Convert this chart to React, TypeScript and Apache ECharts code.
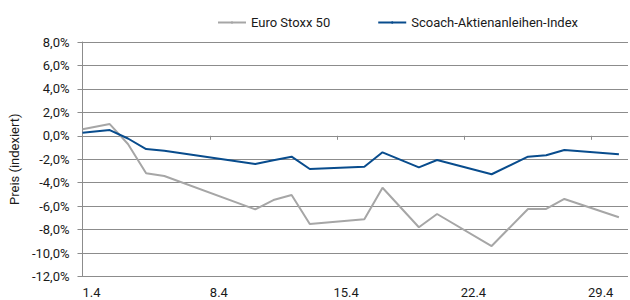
import React, { useEffect, useRef } from "react";
import * as echarts from "echarts";

// Days of April (0.5 = starting value at the left edge of the axis)
const days = [0.5, 2, 3, 4, 5, 10, 11, 12, 13, 16, 17, 19, 20, 23, 25, 26, 27, 30];
const euroStoxx = [0.55, 1.0, -0.7, -3.2, -3.43, -6.27, -5.48, -5.05, -7.52, -7.12, -4.43, -7.8, -6.67, -9.4, -6.24, -6.24, -5.39, -6.95];
const scoach = [0.26, 0.49, -0.23, -1.13, -1.27, -2.4, -2.09, -1.78, -2.83, -2.64, -1.41, -2.69, -2.06, -3.28, -1.78, -1.66, -1.21, -1.58];
const xLabelDays = [1, 8, 15, 22, 29];
const xTickDays = [7.5, 14.5, 21.5, 28.5];
const seriesNames = ["Euro Stoxx 50", "Scoach-Aktienanleihen-Index"];
const yAxisName = "Preis (indexiert)";

const FONT = "Roboto, 'Liberation Sans', Arial, sans-serif";
const GRID = "#8c8c8c";
const TXT = "#1a1a1a";

export default function App() {
  const ref = useRef<HTMLDivElement>(null);
  useEffect(() => {
    if (!ref.current) return;
    const chart = echarts.init(ref.current, undefined, { renderer: "svg" });
    const pairs = (vals: number[]) => days.map((d, i) => [d, vals[i]]);
    chart.setOption({
      animation: false,
      textStyle: { fontFamily: FONT },
      legend: {
        left: 212,
        top: 11,
        itemWidth: 28,
        itemHeight: 3,
        itemGap: 47,
        textStyle: { fontFamily: FONT, fontSize: 13, color: TXT },
        data: seriesNames,
      },
      grid: { left: 78, right: 2, top: 42, bottom: 23.5, containLabel: false },
      xAxis: [
        {
          type: "value",
          min: 0.5,
          max: 30.5,
          position: "bottom",
          axisLine: { onZero: true, lineStyle: { color: GRID, width: 1 } },
          axisTick: { show: true, customValues: xTickDays, length: 4, lineStyle: { color: GRID } },
          axisLabel: { show: false },
          splitLine: { show: false },
        },
        {
          type: "value",
          min: 0.5,
          max: 30.5,
          position: "bottom",
          axisLine: { show: false, onZero: false },
          axisTick: { show: false },
          splitLine: { show: false },
          axisLabel: {
            customValues: xLabelDays,
            formatter: (v: number) => `${v}.4`,
            fontFamily: FONT,
            fontSize: 13,
            color: TXT,
            margin: 9,
          },
        },
      ],
      yAxis: {
        type: "value",
        min: -12,
        max: 8,
        interval: 2,
        name: yAxisName,
        nameLocation: "middle",
        nameGap: 54,
        nameTextStyle: { fontFamily: FONT, fontSize: 13, color: TXT },
        axisLine: { show: true, lineStyle: { color: GRID, width: 1 } },
        axisTick: { show: true, length: 5, lineStyle: { color: GRID } },
        splitLine: { show: true, lineStyle: { color: GRID, width: 1 } },
        axisLabel: {
          formatter: (v: number) => `${v.toFixed(1).replace(".", ",")}%`,
          fontFamily: FONT,
          fontSize: 13,
          color: TXT,
          margin: 13,
        },
      },
      series: [
        {
          name: seriesNames[0],
          type: "line",
          xAxisIndex: 0,
          data: pairs(euroStoxx),
          symbol: "none",
          lineStyle: { color: "#a6a6a6", width: 2 },
          itemStyle: { color: "#a6a6a6" },
        },
        {
          name: seriesNames[1],
          type: "line",
          xAxisIndex: 0,
          data: pairs(scoach),
          symbol: "none",
          lineStyle: { color: "#084c8d", width: 2 },
          itemStyle: { color: "#084c8d" },
        },
      ],
    });
    return () => chart.dispose();
  }, []);
  return (
    <div
      ref={ref}
      style={{ position: "fixed", left: 0, top: 0, width: 630, height: 300, background: "#fff" }}
    />
  );
}
